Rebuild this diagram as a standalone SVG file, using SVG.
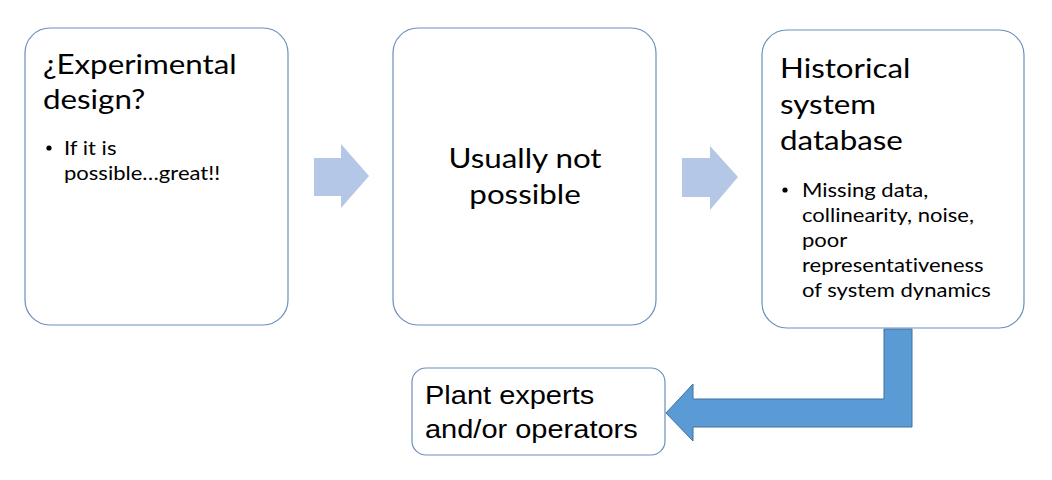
<svg xmlns="http://www.w3.org/2000/svg" width="1052" height="480" viewBox="0 0 1052 480">
<style>
.box{fill:#fff;stroke:#6a8fbd;stroke-width:1.2}
.h{font-family:Lato,"Open Sans",sans-serif;font-size:27px;fill:#000;font-variant-ligatures:none}
.b{font-family:Lato,"Open Sans",sans-serif;font-size:19px;fill:#000;font-variant-ligatures:none}
.a{font-family:"Liberation Sans",Arial,sans-serif;font-size:25px;fill:#000}
.light{fill:#b4c7e7}
.dark{fill:#5b9bd5;stroke:#41719c;stroke-width:1}
</style>
<rect width="1052" height="480" fill="#fff"/>
<g id="connectors">
<path class="light" d="M314 158 L341 158 L341 144 L369 176 L341 208 L341 196 L314 196 Z"/>
<path class="light" d="M682 158 L710 158 L710 146 L738 177 L710 210 L710 197 L682 197 Z"/>
<path class="dark" d="M884 329 L912 329 L912 427 L693 427 L693 441 L666 413 L693 384 L693 399 L884 399 Z"/>
</g>
<g id="node-experimental">
<rect class="box" x="25" y="28" width="263" height="297" rx="25"/>
<g transform="translate(43,0) scale(1.16,1)">
<text class="h" x="0" y="74">¿Experimental</text>
<text class="h" x="0" y="109">design?</text>
</g>
<circle cx="49" cy="148" r="2.6"/>
<g transform="translate(64,0) scale(1.16,1)">
<text class="b" x="0" y="155">If it is</text>
<text class="b" x="0" y="180">possible…great!!</text>
</g>
</g>
<g id="node-usually">
<rect class="box" x="393" y="28" width="263" height="297" rx="25"/>
<g transform="translate(525,0) scale(1.16,1)">
<text class="h" x="0" y="168" text-anchor="middle">Usually not</text>
<text class="h" x="0" y="204" text-anchor="middle">possible</text>
</g>
</g>
<g id="node-historical">
<rect class="box" x="762" y="30" width="262" height="298" rx="25"/>
<g transform="translate(780,0) scale(1.16,1)">
<text class="h" x="0" y="78">Historical</text>
<text class="h" x="0" y="114">system</text>
<text class="h" x="0" y="150">database</text>
</g>
<circle cx="785" cy="190" r="2.6"/>
<g transform="translate(802,0) scale(1.16,1)">
<text class="b" x="0" y="197">Missing data,</text>
<text class="b" x="0" y="222">collinearity, noise,</text>
<text class="b" x="0" y="247">poor</text>
<text class="b" x="0" y="272">representativeness</text>
<text class="b" x="0" y="297">of system dynamics</text>
</g>
</g>
<g id="node-plant">
<rect class="box" x="412" y="368" width="253" height="87" rx="14"/>
<g transform="translate(425,0) scale(1.16,1)">
<text class="a" x="0" y="404">Plant experts</text>
<text class="a" x="0" y="438">and/or operators</text>
</g>
</g>
</svg>
